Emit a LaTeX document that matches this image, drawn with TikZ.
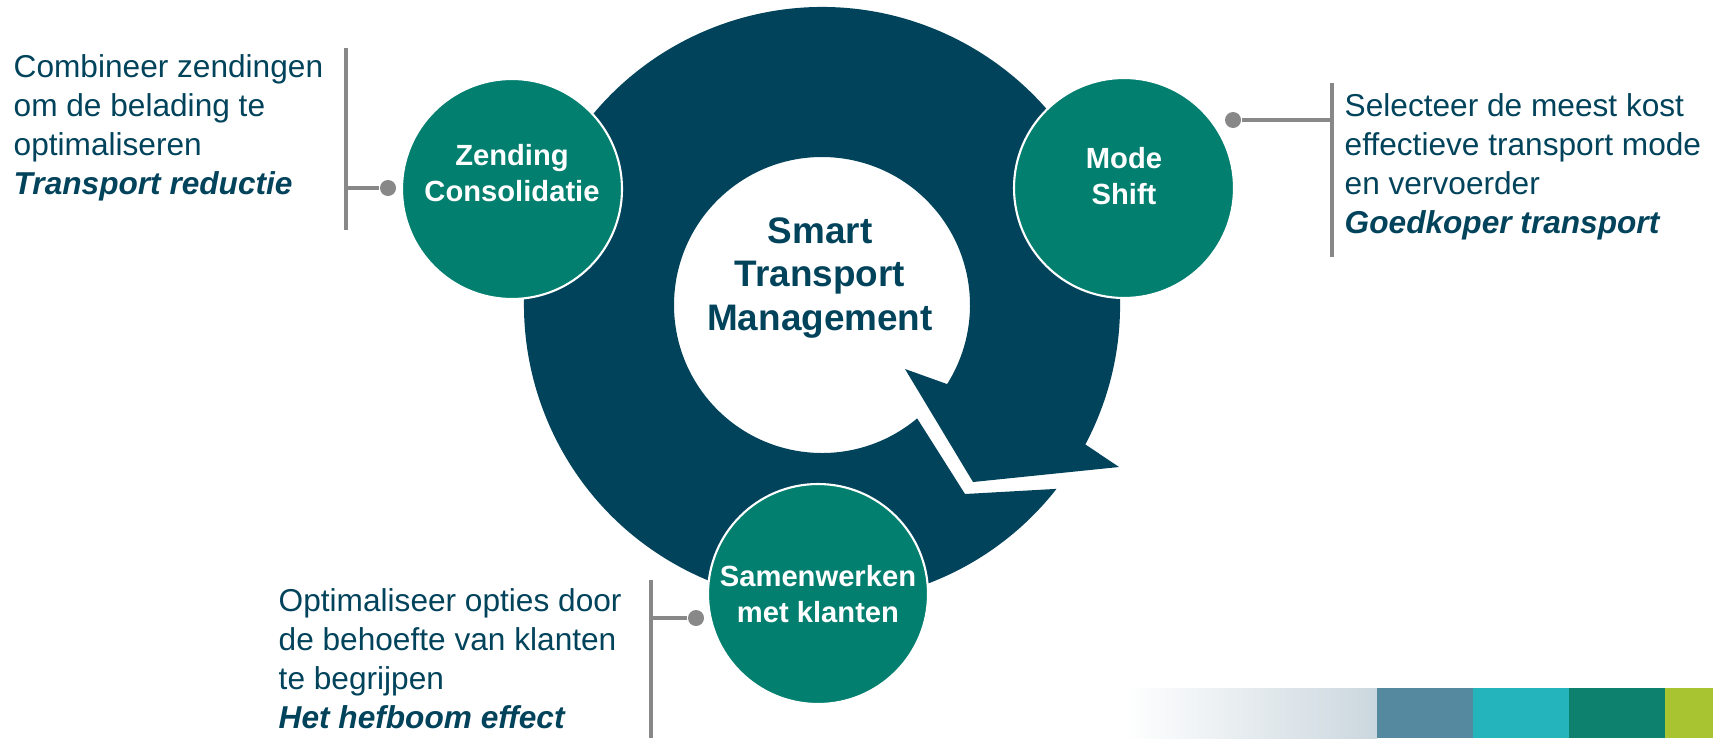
\documentclass[tikz,border=0pt]{standalone}
\usepackage{fontspec}
\setmainfont{Liberation Sans}
\usepackage{xcolor}
\usepackage{tikz}
\usetikzlibrary{calc}

\definecolor{ringblue}{RGB}{2,67,92}
\definecolor{bubblegreen}{RGB}{3,127,111}
\definecolor{linegray}{RGB}{136,136,136}
\definecolor{barfade}{RGB}{203,215,222}
\definecolor{barblue}{RGB}{85,137,160}
\definecolor{barcyan}{RGB}{36,181,188}
\definecolor{bargreen}{RGB}{13,128,110}
\definecolor{barlime}{RGB}{168,197,49}

\begin{document}
\begin{tikzpicture}[
    bubble/.style={circle, fill=bubblegreen, draw=white, line width=0.6pt, minimum size=2.2cm, inner sep=0pt, align=center, text=white, font=\fontsize{8.3}{10.4}\selectfont\bfseries},
    note/.style={anchor=north west, inner sep=0pt, align=left, text=ringblue, font=\fontsize{9}{11.1}\selectfont},
    bracket/.style={draw=linegray, line width=1pt},
    pindot/.style={circle, fill=linegray, inner sep=0pt, minimum size=0.16cm}
]
    \useasboundingbox (0,0) rectangle (17.13,7.38);

    % Ring arrow
    \coordinate (hub) at (8.22,4.33);
    \fill[ringblue] ($(hub)+(-50:1.48)$) arc[start angle=-50, end angle=-392.3, radius=1.48]
        -- (9.05,3.69) -- (9.73,2.56) -- (11.19,2.71)
        -- ($(hub)+(-27.9:2.98)$) arc[start angle=-27.9, end angle=321.9, radius=2.98]
        -- (9.65,2.44) -- cycle;
    \node[align=center, text=ringblue, font=\fontsize{10.5}{12.4}\selectfont\bfseries] (stm) at (8.20,4.60) {Smart\\Transport\\Management};

    % Nodes
    \node[bubble, text depth=0.32cm] (zend) at (5.12,5.49) {Zending\\Consolidatie};
    \node[bubble, text depth=0.24cm] (mode) at (11.24,5.50) {Mode\\Shift};
    \node[bubble] (samen) at (8.18,1.44) {Samenwerken\\met klanten};

    \node[note] (zendnote) at (0.13,6.84) {Combineer zendingen\\om de belading te\\optimaliseren\\\textbf{\textit{Transport reductie}}};
    \node[note] (modenote) at (13.44,6.45) {Selecteer de meest kost\\effectieve transport mode\\en vervoerder\\\textbf{\textit{Goedkoper transport}}};
    \node[note] (samennote) at (2.78,1.50) {Optimaliseer opties door\\de behoefte van klanten\\te begrijpen\\\textbf{\textit{Het hefboom effect}}};

    % Callouts
    \node[pindot] (zenddot) at (3.88,5.50) {};
    \coordinate (zendtop) at (3.46,6.90);
    \coordinate (zendbot) at (3.46,5.08);
    \coordinate (zendmid) at (3.46,5.50);
    \draw[bracket] (zendtop) -- (zendbot);
    \draw[bracket] (zendmid) -- (zenddot);

    \node[pindot] (modedot) at (12.33,6.18) {};
    \coordinate (modetop) at (13.32,6.55);
    \coordinate (modebot) at (13.32,4.81);
    \coordinate (modemid) at (13.32,6.18);
    \draw[bracket] (modetop) -- (modebot);
    \draw[bracket] (modemid) -- (modedot);

    \node[pindot] (samendot) at (6.96,1.20) {};
    \coordinate (samentop) at (6.51,1.58);
    \coordinate (samenbot) at (6.51,0);
    \coordinate (samenmid) at (6.51,1.20);
    \draw[bracket] (samentop) -- (samenbot);
    \draw[bracket] (samenmid) -- (samendot);

    % Colour bar
    \shade[left color=white, right color=barfade] (11.25,0) rectangle (13.77,0.50);
    \fill[barblue] (13.77,0) rectangle (14.73,0.50);
    \fill[barcyan] (14.73,0) rectangle (15.69,0.50);
    \fill[bargreen] (15.69,0) rectangle (16.65,0.50);
    \fill[barlime] (16.65,0) rectangle (17.13,0.50);
\end{tikzpicture}
\end{document}
